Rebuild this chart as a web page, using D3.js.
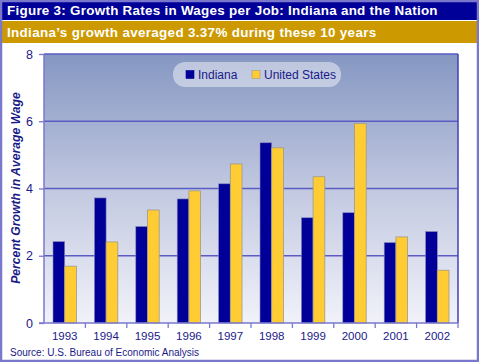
<!DOCTYPE html>
<html><head><meta charset="utf-8">
<script src="https://cdn.jsdelivr.net/npm/d3@7"></script>
<style>body{margin:0;background:#fff}svg{display:block}</style>
</head><body>
<script>
const years = ["1993","1994","1995","1996","1997","1998","1999","2000","2001","2002"];
const indiana = [2.42,3.72,2.87,3.69,4.14,5.36,3.13,3.28,2.39,2.72];
const unitedStates = [1.69,2.41,3.36,3.93,4.73,5.21,4.35,5.93,2.56,1.57];
const seriesNames = ["Indiana","United States"];
const yTicks = [0,2,4,6,8];
const title = "Figure 3: Growth Rates in Wages per Job: Indiana and the Nation";
const subtitle = "Indiana\u2019s growth averaged 3.37% during these 10 years";
const yLabel = "Percent Growth in Average Wage";
const source = "Source: U.S. Bureau of Economic Analysis";

const W = 479, H = 362;
const svg = d3.select("body").append("svg").attr("width", W).attr("height", H);
const font = "Arial, Liberation Sans, Helvetica, sans-serif";

// outer frame
svg.append("rect").attr("x",0).attr("y",0).attr("width",W).attr("height",H).attr("fill","#fff");
svg.append("rect").attr("x",0).attr("y",0).attr("width",W).attr("height",20).attr("fill","#000099");
svg.append("rect").attr("x",0).attr("y",21).attr("width",W).attr("height",22).attr("fill","#cc9900");
svg.append("rect").attr("x",1).attr("y",1).attr("width",W-2).attr("height",H-2)
  .attr("fill","none").attr("stroke","#7a78cc").attr("stroke-width",2.5);

svg.append("text").attr("x",7).attr("y",15).attr("fill","#fff")
  .attr("font-family",font).attr("font-weight","bold").attr("font-size",13.4)
  .attr("letter-spacing",0.28).text(title);
svg.append("text").attr("x",7).attr("y",37).attr("fill","#fff")
  .attr("font-family",font).attr("font-weight","bold").attr("font-size",13.4)
  .attr("letter-spacing",0.34).text(subtitle);

const m = {l:44, r:458, t:54, b:323};
const x = d3.scaleBand().domain(years).range([m.l, m.r]).paddingInner(0).paddingOuter(0);
const y = d3.scaleLinear().domain([0,8]).range([m.b, m.t]);
const xs = d3.scaleBand().domain(seriesNames).range([0, 23.4]);
const offset = (x.bandwidth() - 23.4)/2;

const defs = svg.append("defs");
const grad = defs.append("linearGradient").attr("id","bg").attr("x1",0).attr("y1",0).attr("x2",0).attr("y2",1);
grad.append("stop").attr("offset","0%").attr("stop-color","#8597c2");
grad.append("stop").attr("offset","50%").attr("stop-color","#c1c8e0");
grad.append("stop").attr("offset","100%").attr("stop-color","#f1f2f9");

svg.append("rect").attr("x",m.l).attr("y",m.t).attr("width",m.r-m.l).attr("height",m.b-m.t).attr("fill","url(#bg)");

// gridlines
svg.append("g").selectAll("line").data(yTicks.filter(d=>d>0)).join("line")
  .attr("x1",m.l).attr("x2",m.r).attr("y1",d=>y(d)).attr("y2",d=>y(d))
  .attr("stroke","#5a5cc4").attr("stroke-width",1.3);
svg.append("line").attr("x1",m.r).attr("x2",m.r).attr("y1",m.t).attr("y2",m.b)
  .attr("stroke","#4040b8").attr("stroke-width",1.5);

// bars
const groups = svg.append("g").selectAll("g").data(years).join("g")
  .attr("transform", d => `translate(${x(d)+offset},0)`);
groups.append("rect").attr("x",xs("Indiana")).attr("width",xs.bandwidth())
  .attr("y",(d,i)=>y(indiana[i])).attr("height",(d,i)=>y(0)-y(indiana[i]))
  .attr("fill","#000099").attr("stroke","#8888bb").attr("stroke-width",0.6);
groups.append("rect").attr("x",xs("United States")).attr("width",xs.bandwidth())
  .attr("y",(d,i)=>y(unitedStates[i])).attr("height",(d,i)=>y(0)-y(unitedStates[i]))
  .attr("fill","#ffcc33").attr("stroke","#a09a88").attr("stroke-width",0.8);

// axes
const axisColor = "#7a78cc";
const yAxis = svg.append("g").attr("transform",`translate(${m.l},0)`)
  .call(d3.axisLeft(y).tickValues(yTicks).tickFormat(d3.format("d")).tickSize(5).tickPadding(6));
const xAxis = svg.append("g").attr("transform",`translate(0,${m.b})`)
  .call(d3.axisBottom(x).tickSize(0).tickPadding(9));
[yAxis,xAxis].forEach(a=>{
  a.select(".domain").attr("stroke",axisColor).attr("stroke-width",1.5);
  a.selectAll(".tick line").attr("stroke",axisColor).attr("stroke-width",1.3);
  a.selectAll("text").attr("fill","#1a1a88").attr("font-family",font).attr("font-size",11.5);
});
yAxis.selectAll("text").attr("font-size",12.5);
yAxis.select(".domain").attr("d",`M0,${m.t}V${m.b}`);
xAxis.select(".domain").attr("d",`M${m.l-5},0H${m.r}`);
// category separators
svg.append("g").selectAll("line").data(years.slice(1)).join("line")
  .attr("x1",d=>x(d)).attr("x2",d=>x(d)).attr("y1",m.b).attr("y2",m.b+5)
  .attr("stroke",axisColor).attr("stroke-width",1.3);
svg.append("line").attr("x1",m.r).attr("x2",m.r).attr("y1",m.b).attr("y2",m.b+5)
  .attr("stroke",axisColor).attr("stroke-width",1.3);

svg.append("text").attr("transform",`translate(19.5,188) rotate(-90)`)
  .attr("text-anchor","middle").attr("fill","#1a1a88").attr("font-family",font)
  .attr("font-weight","bold").attr("font-style","italic").attr("font-size",12.2).text(yLabel);

// legend
const lg = svg.append("g");
lg.append("rect").attr("x",173).attr("y",62).attr("width",168).attr("height",25).attr("rx",12)
  .attr("fill","#ffffff").attr("fill-opacity",0.45);
const legendItems = [{name:seriesNames[0], color:"#000099", stroke:"#000099", sx:186, tx:198},
                     {name:seriesNames[1], color:"#ffcc33", stroke:"#a09a88", sx:252, tx:264}];
legendItems.forEach(it=>{
  lg.append("rect").attr("x",it.sx).attr("y",70.5).attr("width",8).attr("height",8)
    .attr("fill",it.color).attr("stroke",it.stroke).attr("stroke-width",0.6);
  lg.append("text").attr("x",it.tx).attr("y",79).attr("fill","#1a1a88")
    .attr("font-family",font).attr("font-size",12).text(it.name);
});

svg.append("text").attr("x",10).attr("y",356).attr("fill","#1a1a88")
  .attr("font-family",font).attr("font-size",10).text(source);
</script>
</body></html>
